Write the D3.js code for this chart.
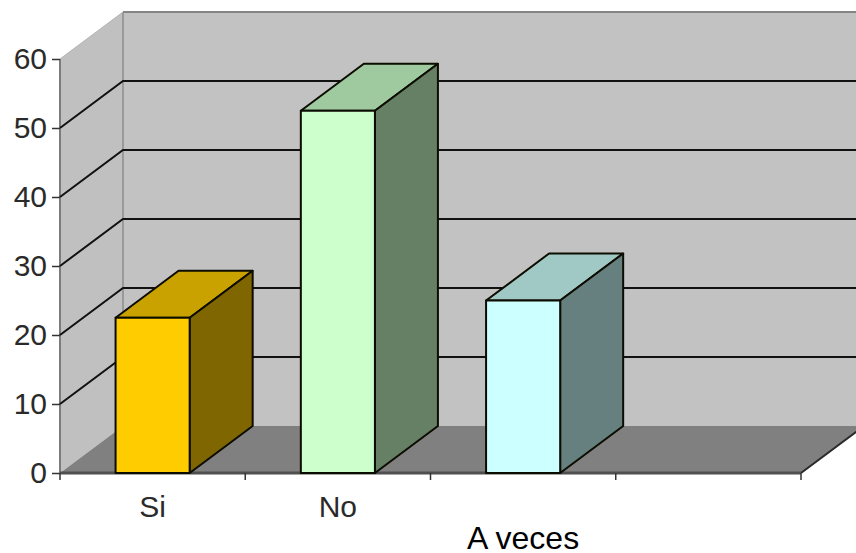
<!DOCTYPE html>
<html>
<head>
<meta charset="utf-8">
<script src="https://cdn.jsdelivr.net/npm/d3@7/dist/d3.min.js"></script>
<style>
html,body{margin:0;padding:0;background:#fff;}
svg{display:block;}
text{font-family:"Liberation Sans",Arial,sans-serif;}
</style>
</head>
<body>
<svg id="chart" width="856" height="553"></svg>
<script>
// Answer counts per category
const categories = ["Si", "No", "A veces", ""];
const values = [22.5, 52.5, 25];
const yTicks = [0, 10, 20, 30, 40, 50, 60];
const gridValues = [10, 20, 30, 40, 50];
const faceColors = ["#FFCC00", "#CCFFCC", "#CCFFFF"];
const topColors = ["#C9A200", "#9FC99F", "#A0C8C4"];
const sideColors = ["#806600", "#668066", "#668080"];
const labelDrop = [0, 0, 32, 0];

const svg = d3.select("#chart");
const x = d3.scaleBand().domain(categories).range([60, 801]);
const y = d3.scaleLinear().domain([0, 60]).range([473, 59]);

// Oblique projection of the chart's depth axis
const depthX = 63, depthY = -47;
const left = x.range()[0], right = x.range()[1];
const base = y(0), top60 = y(60);
const poly = pts => pts.map(p => p.join(",")).join(" ");

// Side wall, back wall and floor
svg.append("polygon")
  .attr("points", poly([[left, top60], [left + depthX, top60 + depthY], [left + depthX, base + depthY], [left, base]]))
  .attr("fill", "#C0C0C0");
svg.append("polygon")
  .attr("points", poly([[left + depthX, top60 + depthY], [right + depthX, top60 + depthY], [right + depthX, base + depthY], [left + depthX, base + depthY]]))
  .attr("fill", "#C2C2C2");
svg.append("polygon")
  .attr("points", poly([[left, base], [left + depthX, base + depthY], [right + depthX, base + depthY], [right, base]]))
  .attr("fill", "#808080");

// Wall edges
const edge = (x1, y1, x2, y2, color, w) => svg.append("line")
  .attr("x1", x1).attr("y1", y1).attr("x2", x2).attr("y2", y2)
  .attr("stroke", color).attr("stroke-width", w);
edge(left + depthX, top60 + depthY, right + depthX, top60 + depthY, "#858585", 2);
edge(left + depthX, top60 + depthY, left + depthX, base + depthY, "#8c8c8c", 1.5);
edge(left, top60, left, base, "#7c7c7c", 2);
edge(left, top60, left + depthX, top60 + depthY, "#b4b4b4", 1);
edge(right, base, right + depthX, base + depthY, "#2a2a2a", 2);

// Gridlines wrap from the side wall on to the back wall
svg.append("g").selectAll("polyline").data(gridValues).join("polyline")
  .attr("points", d => poly([[left, y(d)], [left + depthX, y(d) + depthY], [right + depthX, y(d) + depthY]]))
  .attr("fill", "none").attr("stroke", "#111").attr("stroke-width", 2);

// Front edge of the floor
edge(left, base, right, base, "#4f4f4f", 3);

// Value axis
const yAxis = svg.append("g")
  .attr("transform", `translate(${left},0)`)
  .call(d3.axisLeft(y).tickValues(yTicks).tickSize(8).tickSizeOuter(0));
yAxis.select(".domain").remove();
yAxis.selectAll("line").attr("stroke", "#333").attr("stroke-width", 1.5);
yAxis.selectAll("text").attr("font-size", 30).attr("fill", "#2a2a2a").attr("x", -13)
  .style("font-family", '"Liberation Sans",Arial,sans-serif');

// Category ticks sit on the band boundaries
const boundaries = categories.map(c => x(c)).concat([right]);
svg.append("g").selectAll("line").data(boundaries).join("line")
  .attr("x1", d => d).attr("x2", d => d)
  .attr("y1", base).attr("y2", base + 7)
  .attr("stroke", "#333").attr("stroke-width", 1.5);

// Category labels, the long one dropped to a second row
svg.append("g").selectAll("text").data(categories).join("text")
  .attr("x", d => x(d) + x.bandwidth() / 2)
  .attr("y", (d, i) => 517 + labelDrop[i])
  .attr("text-anchor", "middle")
  .attr("font-size", (d, i) => labelDrop[i] ? 32 : 30)
  .attr("fill", (d, i) => labelDrop[i] ? "#000" : "#2a2a2a")
  .text(d => d);

// Bars: front, top and right faces
const barWidth = x.bandwidth() * 0.4;
const bars = svg.append("g").selectAll("g").data(values).join("g")
  .attr("stroke", "#0c0c00").attr("stroke-width", 2).attr("stroke-linejoin", "round");
const barLeft = i => x(categories[i]) + (x.bandwidth() - barWidth) / 2;
bars.append("polygon")
  .attr("fill", (d, i) => topColors[i])
  .attr("points", (d, i) => {
    const a = barLeft(i), b = a + barWidth, t = y(d);
    return poly([[a, t], [b, t], [b + depthX, t + depthY], [a + depthX, t + depthY]]);
  });
bars.append("polygon")
  .attr("fill", (d, i) => sideColors[i])
  .attr("points", (d, i) => {
    const b = barLeft(i) + barWidth, t = y(d);
    return poly([[b, t], [b + depthX, t + depthY], [b + depthX, base + depthY], [b, base]]);
  });
bars.append("rect")
  .attr("x", (d, i) => barLeft(i))
  .attr("y", d => y(d))
  .attr("width", barWidth)
  .attr("height", d => base - y(d))
  .attr("fill", (d, i) => faceColors[i]);
</script>
</body>
</html>
